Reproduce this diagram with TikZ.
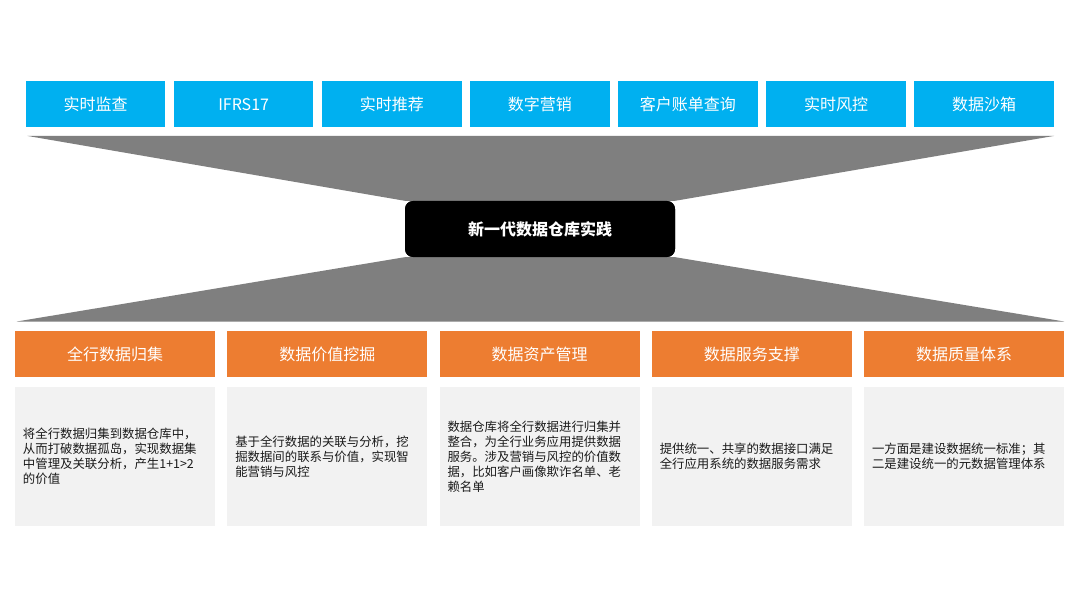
\documentclass[tikz,border=0pt]{standalone}
\usepackage{fontspec}
\setmainfont{Noto Sans CJK SC}
\definecolor{topblue}{HTML}{00B0F0}
\definecolor{pillar}{HTML}{ED7D31}
\definecolor{funnel}{HTML}{7F7F7F}
\definecolor{panel}{HTML}{F2F2F2}
\definecolor{bodytext}{HTML}{1A1A1A}
\begin{document}
\begin{tikzpicture}[x=1pt,y=-1pt,
  appbox/.style={rectangle, fill=topblue, minimum width=139.5pt, minimum height=46pt, inner sep=0pt,
    text=white, font=\fontsize{16}{18}\selectfont},
  pillarbox/.style={rectangle, fill=pillar, minimum width=200pt, minimum height=46pt, inner sep=0pt,
    text=white, font=\fontsize{16}{18}\selectfont},
  descbox/.style={rectangle, fill=panel, minimum width=200pt, minimum height=139pt, text width=184pt,
    inner xsep=8pt, inner ysep=0pt, align=left, text=bodytext, font=\fontsize{12.4}{15}\selectfont},
  corebox/.style={rectangle, rounded corners=8pt, fill=black, minimum width=270pt, minimum height=56pt,
    inner sep=0pt, text=white, font=\bfseries\fontsize{16}{18}\selectfont},
  funnelfill/.style={fill=funnel}
]
\useasboundingbox (0,0) rectangle (1080,607);
\fill[white] (0,0) rectangle (1080,607);

% top application boxes
\node[appbox] (t1) at (95.55,104.2) {实时监查};
\node[appbox] (t2) at (243.65,104.2) {IFRS17};
\node[appbox] (t3) at (391.75,104.2) {实时推荐};
\node[appbox] (t4) at (539.85,104.2) {数字营销};
\node[appbox] (t5) at (687.95,104.2) {客户账单查询};
\node[appbox] (t6) at (836.05,104.2) {实时风控};
\node[appbox] (t7) at (984.15,104.2) {数据沙箱};

% core node (background shape for the funnels)
\node[corebox] (core) at (540,229) {};

% funnels
\fill[funnelfill] ([xshift=1.7pt,yshift=-8.5pt]t1.south west) -- ([yshift=-8.5pt]t7.south east)
  -- (core.north east) -- (core.north west) -- cycle;

% bottom pillar boxes
\node[pillarbox] (p1) at (115,354) {全行数据归集};
\node[pillarbox] (p2) at (327.25,354) {数据价值挖掘};
\node[pillarbox] (p3) at (539.5,354) {数据资产管理};
\node[pillarbox] (p4) at (751.75,354) {数据服务支撑};
\node[pillarbox] (p5) at (964,354) {数据质量体系};

\fill[funnelfill] (core.south west) -- (core.south east)
  -- ([yshift=9.3pt]p5.north east) -- ([xshift=2pt,yshift=9.3pt]p1.north west) -- cycle;

\node[corebox] (corelabel) at (540,229) {新一代数据仓库实践};

% description panels
\node[descbox] (d1) at (115,456.5) {将全行数据归集到数据仓库中，\\从而打破数据孤岛，实现数据集\\中管理及关联分析，产生1+1>2\\的价值};
\node[descbox] (d2) at (327.25,456.5) {基于全行数据的关联与分析，挖\\掘数据间的联系与价值，实现智\\能营销与风控};
\node[descbox] (d3) at (539.5,456.5) {数据仓库将全行数据进行归集并\\整合，为全行业务应用提供数据\\服务。涉及营销与风控的价值数\\据，比如客户画像欺诈名单、老\\赖名单};
\node[descbox] (d4) at (751.75,456.5) {提供统一、共享的数据接口满足\\全行应用系统的数据服务需求};
\node[descbox] (d5) at (964,456.5) {一方面是建设数据统一标准；其\\二是建设统一的元数据管理体系};
\end{tikzpicture}
\end{document}
